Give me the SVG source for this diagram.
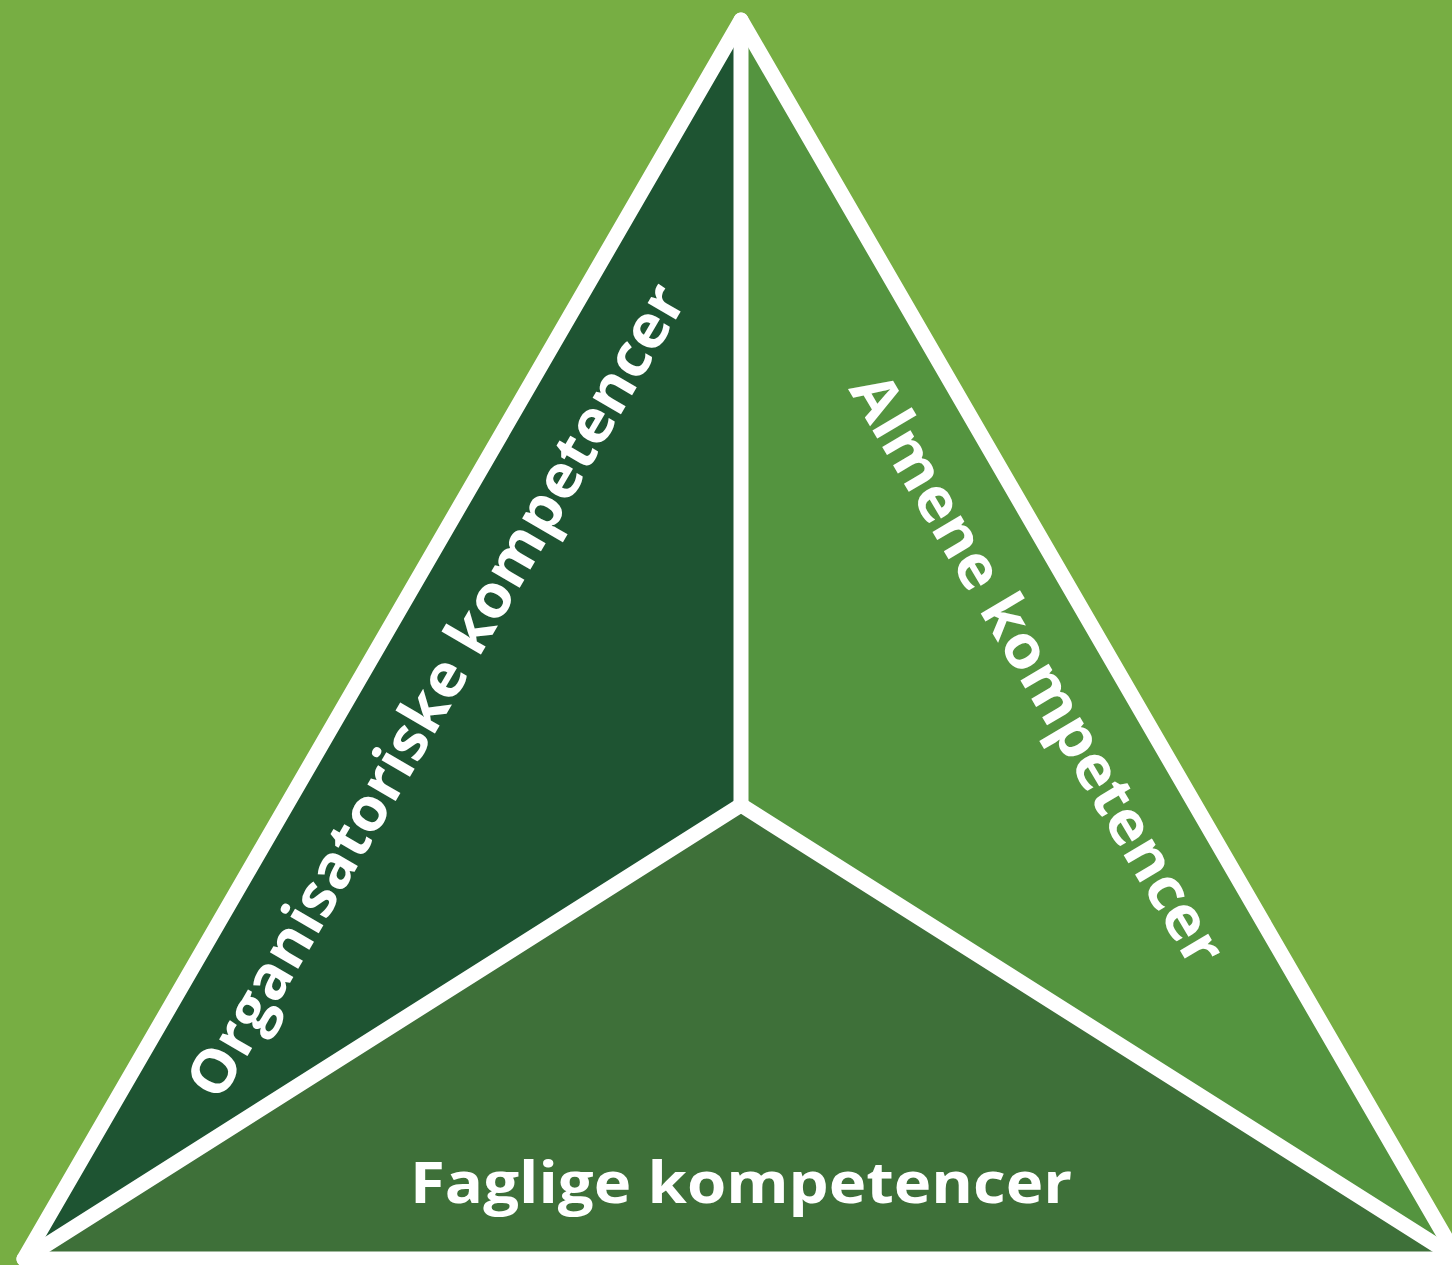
<svg xmlns="http://www.w3.org/2000/svg" width="1452" height="1265" viewBox="0 0 1452 1265">
<style>
.lbl{font-family:"Open Sans","Liberation Sans",sans-serif;font-weight:700;fill:#ffffff;font-size:60px}
.edge{stroke:#ffffff;stroke-width:15;fill:none;stroke-linejoin:round;stroke-linecap:round}
</style>
<rect x="0" y="0" width="1452" height="1265" fill="#77AE43"/>
<g id="organisatoriske">
<polygon points="741,20 741,805 24,1259" fill="#1E5432"/>
<text class="lbl" transform="translate(220,1103) rotate(-59.8)" textLength="930" lengthAdjust="spacingAndGlyphs">Organisatoriske kompetencer</text>
</g>
<g id="almene">
<polygon points="741,20 741,805 1458,1259" fill="#54943F"/>
<text class="lbl" transform="translate(848,389) rotate(59.4)" textLength="676" lengthAdjust="spacingAndGlyphs">Almene kompetencer</text>
</g>
<g id="faglige">
<polygon points="741,805 24,1259 1458,1259" fill="#3E7039"/>
<text class="lbl" x="410" y="1203" style="font-size:58px" textLength="662" lengthAdjust="spacingAndGlyphs">Faglige kompetencer</text>
</g>
<g id="connectors">
<polygon class="edge" points="741,20 24,1259 1458,1259"/>
<polyline class="edge" points="741,20 741,805"/>
<polyline class="edge" points="24,1259 741,805 1458,1259"/>
</g>
</svg>
